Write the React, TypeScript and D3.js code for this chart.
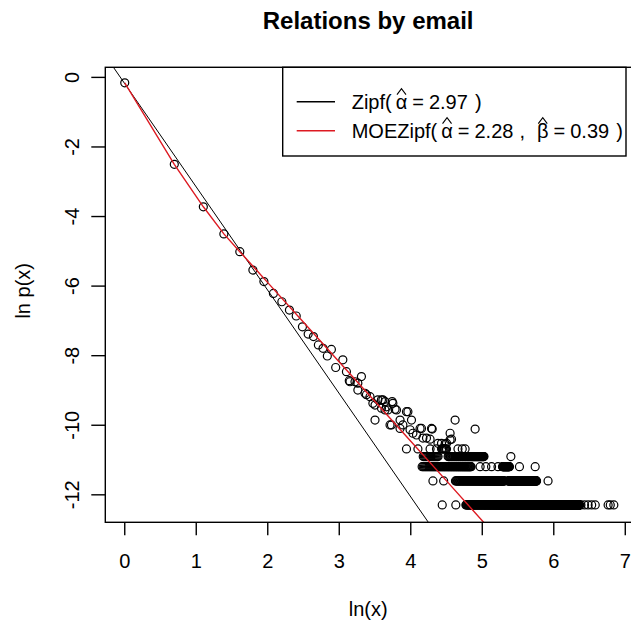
import * as d3 from "d3";
import React, { useLayoutEffect, useRef } from "react";

const WIDTH = 631;
const HEIGHT = 622;
const FONT = "'Liberation Sans', Arial, sans-serif";

// plot region (R's usr box) in data units
const xLim: [number, number] = [-0.272, 7.08];
const yLim: [number, number] = [-12.79, 0.29];
const xTicks = [0, 1, 2, 3, 4, 5, 6, 7];
const yTicks = [0, -2, -4, -6, -8, -10, -12];

// observed points, ln(x) / ln p(x), small degrees
const headLnX = [0, 0.693, 1.099, 1.386, 1.609, 1.792, 1.946, 2.079, 2.197, 2.303, 2.398, 2.485, 2.565, 2.639, 2.708, 2.773, 2.833];
const headLnP = [-0.155, -2.5, -3.72, -4.5, -5.01, -5.54, -5.87, -6.21, -6.45, -6.69, -6.86, -7.17, -7.38, -7.45, -7.69, -7.79, -8.01];

// scattered middle part
const midLnX = [
  2.89, 2.95, 3.05, 3.1, 3.15, 3.14, 3.22, 3.31, 3.26, 3.26, 3.36, 3.38, 3.43, 3.47, 3.54, 3.59, 3.64,
  3.74, 3.5, 3.59, 3.66, 3.68, 3.8, 3.96, 3.5, 3.71, 3.75, 3.73, 3.85, 3.89, 4.01, 3.99, 4.13, 4.3,
  4.62, 4.9, 4.08, 4.22, 4.55, 4.57, 4.38, 4.48, 3.61, 3.78, 3.64, 3.94, 3.85, 4.15, 4.29, 4.03,
  4.17, 4.27, 4.55, 4.43, 4.5,
];
const midLnP = [
  -7.82, -8.34, -8.12, -8.46, -8.75, -8.72, -8.75, -8.6, -8.79, -8.99, -9.08, -9.12, -9.18, -9.37, -9.27, -9.27, -9.32,
  -9.32, -9.42, -9.51, -9.47, -9.56, -9.56, -9.61, -9.85, -9.99, -9.37, -9.99, -9.85, -9.99, -9.85, -10.13, -10.09, -10.11,
  -9.85, -10.11, -10.28, -10.37, -10.23, -10.4, -10.52, -10.54, -9.27, -9.54, -9.56, -9.61, -10.09, -10.09, -10.09, -10.23,
  -10.37, -10.4, -10.42, -10.52, -10.52,
];

// bottom rows: degrees seen 5, 4, 3, 2 and 1 times
const rowLnP = [-10.68, -10.9, -11.19, -11.6, -12.29];
// runs of consecutive degrees (ln x range) on each row
const rowRuns: [number, number][][] = [
  [[4.43, 4.5]],
  [[4.17, 4.39], [4.52, 5.03]],
  [[4.15, 4.85], [5.28, 5.38]],
  [[4.62, 5.31], [5.36, 5.76]],
  [[4.77, 6.36]],
];
const rowSingles: number[][] = [
  [3.94, 4.1, 4.27, 4.36, 4.66, 4.72, 4.76],
  [5.4],
  [4.97, 5.05, 5.13, 5.22, 5.52, 5.74],
  [4.31, 4.46, 5.92],
  [4.44, 4.63, 6.38, 6.43, 6.48, 6.53, 6.58, 6.76, 6.79, 6.84],
];

// fitted models
const zipfIntercept = -0.18;
const zipfSlope = -2.97;
const moeLnX = [0, 0.693, 1.099, 1.386, 1.609, 2.0, 2.5, 3.0, 3.5, 4.0, 4.5, 5.05];
const moeLnP = [-0.155, -2.5, -3.72, -4.5, -5.01, -5.9, -7.04, -8.18, -9.32, -10.46, -11.6, -12.86];

const RED = "#dd1a22";

const Chart: React.FC = () => {
  const ref = useRef<SVGSVGElement>(null);

  useLayoutEffect(() => {
    const svg = d3.select(ref.current);
    svg.selectAll("*").remove();

    const left = 105.3;
    const right = 631;
    const top = 67.3;
    const bottom = 522.3;

    const x = d3.scaleLinear().domain(xLim).range([left, right]);
    const y = d3.scaleLinear().domain(yLim).range([bottom, top]);

    svg
      .append("defs")
      .append("clipPath")
      .attr("id", "plot-clip")
      .append("rect")
      .attr("x", left)
      .attr("y", top)
      .attr("width", right - left + 10)
      .attr("height", bottom - top);

    // title
    svg
      .append("text")
      .attr("x", (left + right) / 2)
      .attr("y", 29)
      .attr("text-anchor", "middle")
      .attr("font-family", FONT)
      .attr("font-weight", "bold")
      .attr("font-size", 24)
      .text("Relations by email");

    // points
    const pts: [number, number][] = [];
    headLnX.forEach((v, i) => pts.push([v, headLnP[i]]));
    midLnX.forEach((v, i) => pts.push([v, midLnP[i]]));
    rowLnP.forEach((lp, r) => {
      rowRuns[r].forEach(([a, b]) => {
        for (let k = Math.ceil(Math.exp(a)); k <= Math.floor(Math.exp(b)); k++) {
          pts.push([Math.log(k), lp]);
        }
      });
      rowSingles[r].forEach((v) => pts.push([v, lp]));
    });

    const plot = svg.append("g").attr("clip-path", "url(#plot-clip)");

    plot
      .append("g")
      .selectAll("circle")
      .data(pts)
      .enter()
      .append("circle")
      .attr("cx", (d) => x(d[0]))
      .attr("cy", (d) => y(d[1]))
      .attr("r", 4)
      .attr("fill", "none")
      .attr("stroke", "#000")
      .attr("stroke-width", 1.2);

    // Zipf straight line
    const zx = [xLim[0] - 1, xLim[1] + 1];
    plot
      .append("line")
      .attr("x1", x(zx[0]))
      .attr("y1", y(zipfIntercept + zipfSlope * zx[0]))
      .attr("x2", x(zx[1]))
      .attr("y2", y(zipfIntercept + zipfSlope * zx[1]))
      .attr("stroke", "#000")
      .attr("stroke-width", 1);

    // MOEZipf curve
    const line = d3
      .line<number>()
      .x((d) => x(moeLnX[d]))
      .y((d) => y(moeLnP[d]));
    plot
      .append("path")
      .attr("d", line(d3.range(moeLnX.length)))
      .attr("fill", "none")
      .attr("stroke", RED)
      .attr("stroke-width", 1.4);

    // frame
    svg
      .append("rect")
      .attr("x", left)
      .attr("y", top)
      .attr("width", right - left + 5)
      .attr("height", bottom - top)
      .attr("fill", "none")
      .attr("stroke", "#000")
      .attr("stroke-width", 1.4);

    // x axis
    const xa = svg.append("g");
    xTicks.forEach((t) => {
      xa.append("line")
        .attr("x1", x(t))
        .attr("x2", x(t))
        .attr("y1", bottom)
        .attr("y2", bottom + 13)
        .attr("stroke", "#000")
        .attr("stroke-width", 1.4);
      xa.append("text")
        .attr("x", x(t))
        .attr("y", 568)
        .attr("text-anchor", "middle")
        .attr("font-family", FONT)
        .attr("font-size", 20)
        .text(String(t));
    });

    // y axis
    const ya = svg.append("g");
    yTicks.forEach((t) => {
      ya.append("line")
        .attr("x1", left - 14)
        .attr("x2", left)
        .attr("y1", y(t))
        .attr("y2", y(t))
        .attr("stroke", "#000")
        .attr("stroke-width", 1.4);
      ya.append("text")
        .attr("transform", `translate(79,${y(t)}) rotate(-90)`)
        .attr("text-anchor", "middle")
        .attr("font-family", FONT)
        .attr("font-size", 20)
        .text(String(t));
    });

    svg
      .append("text")
      .attr("x", (left + right) / 2)
      .attr("y", 616)
      .attr("text-anchor", "middle")
      .attr("font-family", FONT)
      .attr("font-size", 20)
      .text("ln(x)");

    svg
      .append("text")
      .attr("transform", `translate(30,${(top + bottom) / 2 - 4}) rotate(-90)`)
      .attr("text-anchor", "middle")
      .attr("font-family", FONT)
      .attr("font-size", 20)
      .text("ln p(x)");

    // legend
    const lg = svg.append("g");
    lg.append("rect")
      .attr("x", 282.7)
      .attr("y", top)
      .attr("width", 626 - 282.7)
      .attr("height", 156 - top)
      .attr("fill", "#fff")
      .attr("stroke", "#000")
      .attr("stroke-width", 1.4);

    const rows = [
      { color: "#000", y: 101.7, parts: ["Zipf(", "^α", "=", "2.97", ")"] },
      { color: RED, y: 130.7, parts: ["MOEZipf(", "^α", "=", "2.28", ",", "^β", "=", "0.39", ")"] },
    ];
    const gapBefore: Record<string, number> = { "=": 5, ",": 6, ")": 7 };
    rows.forEach((r) => {
      lg.append("line")
        .attr("x1", 296.7)
        .attr("x2", 335)
        .attr("y1", r.y)
        .attr("y2", r.y)
        .attr("stroke", r.color)
        .attr("stroke-width", 1.4);
      let cx = 351.7;
      let prev = "";
      r.parts.forEach((p) => {
        const hat = p.startsWith("^");
        const s = hat ? p.slice(1) : p;
        let gap = gapBefore[s] ?? 0;
        if (hat) gap = prev === "," ? 12 : 4;
        if (prev === "=") gap = 5;
        cx += gap;
        const t = lg
          .append("text")
          .attr("x", cx)
          .attr("y", r.y + 7.5)
          .attr("font-family", FONT)
          .attr("font-size", 20)
          .text(s);
        const w = (t.node() as SVGTextElement).getComputedTextLength();
        if (hat) {
          // plotmath hat accent, drawn as a small chevron
          const hx = cx + w / 2;
          const hy = r.y - 13;
          lg.append("path")
            .attr("d", `M${hx - 4.5},${hy + 6}L${hx},${hy}L${hx + 4.5},${hy + 6}`)
            .attr("fill", "none")
            .attr("stroke", "#000")
            .attr("stroke-width", 1.1);
        }
        cx += w;
        prev = s;
      });
    });
  }, []);

  return <svg ref={ref} width={WIDTH} height={HEIGHT} style={{ display: "block" }} />;
};

export default function App() {
  return (
    <div style={{ position: "absolute", left: 0, top: 0, width: WIDTH, height: HEIGHT, overflow: "hidden", background: "#fff" }}>
      <Chart />
    </div>
  );
}
